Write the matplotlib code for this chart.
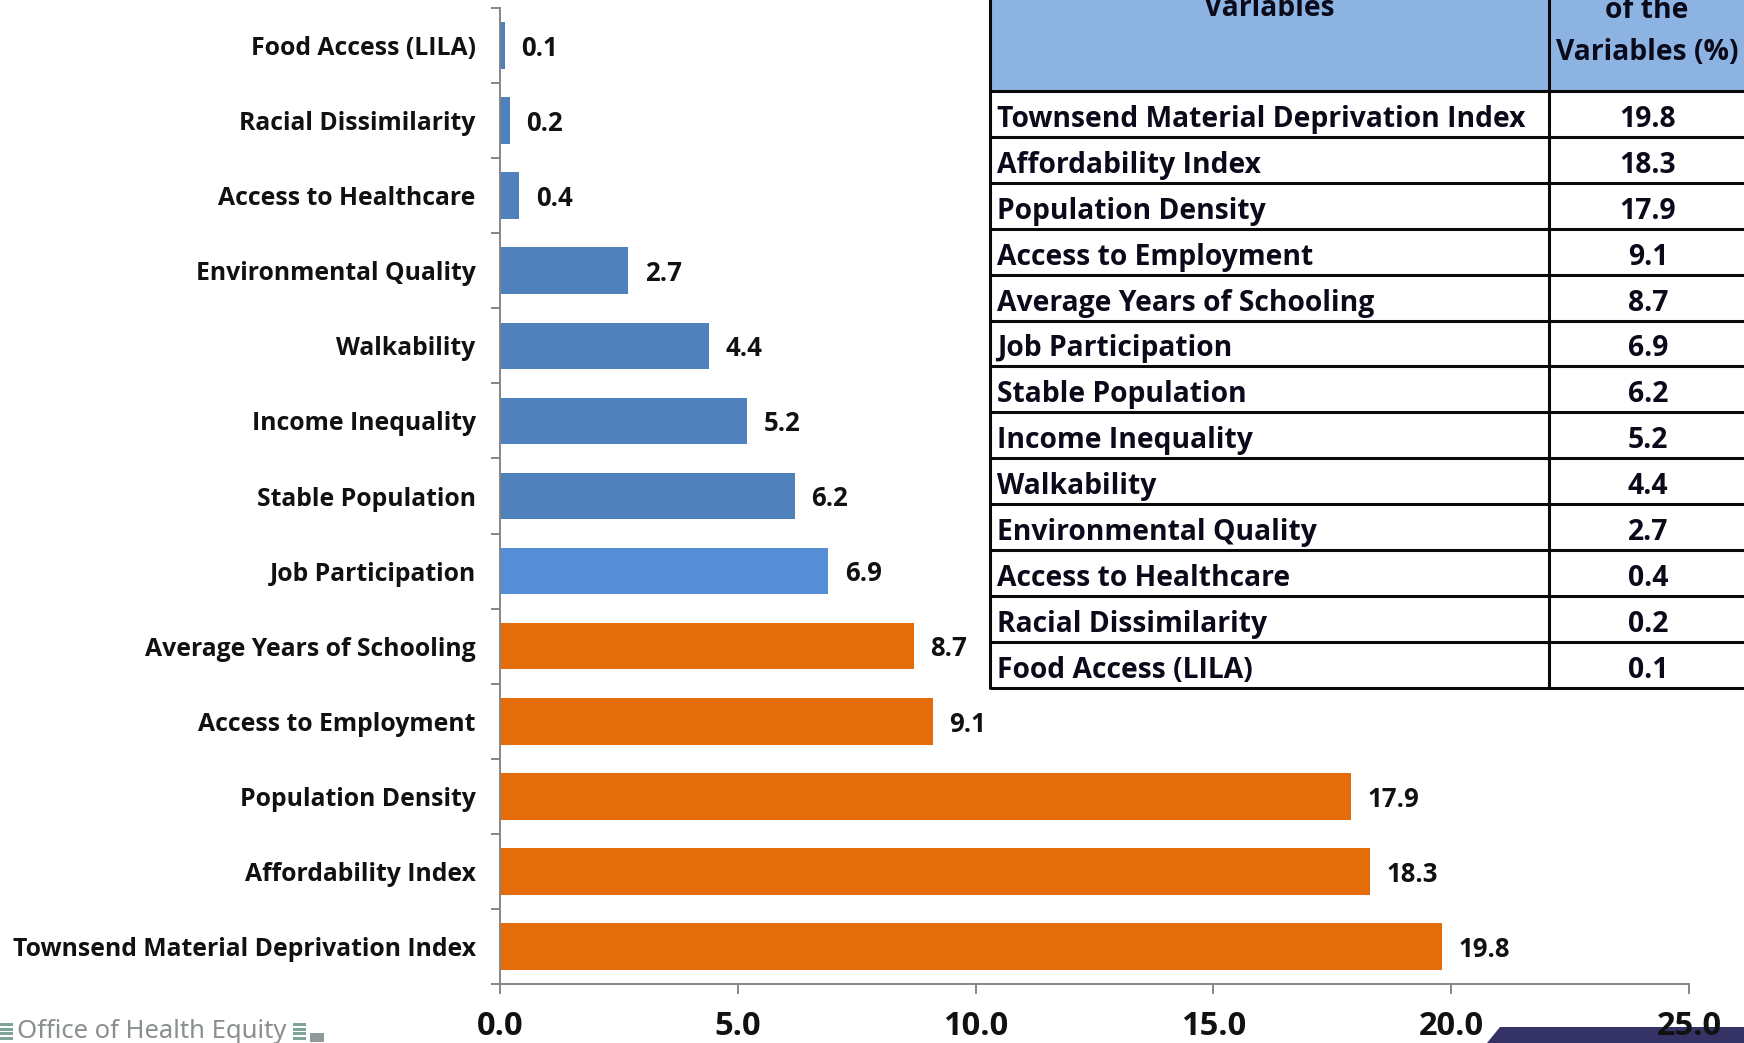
import matplotlib
matplotlib.use("Agg")
import matplotlib.pyplot as plt
from matplotlib.patches import Polygon, Rectangle

W, H = 1744, 1043

CATEGORIES = ["Townsend Material Deprivation Index", "Affordability Index", "Population Density",
              "Access to Employment", "Average Years of Schooling", "Job Participation",
              "Stable Population", "Income Inequality", "Walkability", "Environmental Quality",
              "Access to Healthcare", "Racial Dissimilarity", "Food Access (LILA)"]
VALUES = [19.8, 18.3, 17.9, 9.1, 8.7, 6.9, 6.2, 5.2, 4.4, 2.7, 0.4, 0.2, 0.1]
BAR_COLORS = ["#E46C0A"] * 5 + ["#558ED5"] + ["#4F81BD"] * 7
XTICKS = [0, 5, 10, 15, 20, 25]

TABLE_HEADER_LEFT = "Variables"
TABLE_HEADER_RIGHT = ["of the", "Variables (%)"]

CHART_FONT = "Open Sans"
TABLE_FONT = "Open Sans"
TEXT_DARK = "#111111"

fig = plt.figure(figsize=(W / 100, H / 100), dpi=100)

# axes placed by pixel box, x 500-1689, y 8-984
ax = fig.add_axes([500 / W, 1 - 984 / H, (1689 - 500) / W, (984 - 8) / H], zorder=3)
ax.patch.set_visible(False)
ypos = range(len(CATEGORIES))
ax.barh(list(ypos), VALUES, height=0.62, color=BAR_COLORS)
for y, v in zip(ypos, VALUES):
    ax.annotate(f"{v:.1f}", (v, y), xytext=(12, -2), textcoords="offset points", va="center",
                fontsize=18.5, fontweight="bold", family=CHART_FONT, color=TEXT_DARK)

ax.set_xlim(0, 25)
ax.set_ylim(-0.5, len(CATEGORIES) - 0.5)
ax.set_xticks(XTICKS)
ax.set_xticklabels([f"{t:.1f}" for t in XTICKS], fontsize=23.5, fontweight="bold",
                   family=CHART_FONT, color=TEXT_DARK)
ax.set_yticks([i - 0.5 for i in range(len(CATEGORIES) + 1)])
ax.set_yticklabels([])
ax.set_yticks(list(ypos), minor=True)
ax.set_yticklabels(CATEGORIES, minor=True, fontsize=17.8, fontweight="bold",
                   family=CHART_FONT, color=TEXT_DARK)
ax.tick_params(axis="y", which="major", length=6.5, width=1.4, color="#868686")
ax.tick_params(axis="y", which="minor", length=0, pad=17.5)
ax.tick_params(axis="x", length=7, width=1.4, color="#868686", pad=12)
for s in ["top", "right"]:
    ax.spines[s].set_visible(False)
for s in ["left", "bottom"]:
    ax.spines[s].set_color("#868686")
    ax.spines[s].set_linewidth(1.4)

# overlay in pixel coords for the pasted table and slide footer, under the chart axes
ov = fig.add_axes([0, 0, 1, 1], zorder=1)
ov.set_xlim(0, W)
ov.set_ylim(H, 0)
ov.axis("off")

tx0, tx1, tx2 = 990, 1549, 1750
head_bottom = 91
row_h = 45.9
n = len(CATEGORIES)
ov.add_patch(Rectangle((tx0, -5), tx2 - tx0, head_bottom + 5, fc="#8DB3E2", ec="none"))
for i in range(n + 1):
    ov.plot([tx0, tx2], [head_bottom + i * row_h] * 2, color="#0a0a0a", lw=2.2, solid_capstyle="butt")
for x in [tx0, tx1]:
    ov.plot([x, x], [-5, head_bottom + n * row_h + 1], color="#0a0a0a", lw=2.2, solid_capstyle="butt")

tkw = dict(family=TABLE_FONT, fontweight="bold", color="#0a0a1a", va="center")
ov.text((tx0 + tx1) / 2, 8, TABLE_HEADER_LEFT, ha="center", fontsize=20.3, **tkw)
ov.text(1647, 10, TABLE_HEADER_RIGHT[0], ha="center", fontsize=20.3, **tkw)
ov.text(1647, 52, TABLE_HEADER_RIGHT[1], ha="center", fontsize=20.3, **tkw)
for i, (name, v) in enumerate(zip(CATEGORIES, VALUES)):
    yc = head_bottom + (i + 0.5) * row_h + 5.5
    ov.text(tx0 + 7, yc, name, ha="left", fontsize=20.3, **tkw)
    ov.text(1648, yc, f"{v:.1f}", ha="center", fontsize=20.3, **tkw)

# footer
ov.text(17, 1031, "Office of Health Equity", fontsize=18.5, color="#8a8f8f", va="center",
        family="Noto Sans")
for x in [0, 293]:
    for k in range(4):
        ov.add_patch(Rectangle((x, 1023 + k * 4.5), 13, 3, fc="#7fa59b", ec="none"))
ov.add_patch(Rectangle((310, 1033), 14, 9, fc="#5f6f70", ec="none", alpha=0.7))
ov.add_patch(Polygon([(1487, H), (1500, 1027), (W, 1027), (W, H)], fc="#353366", ec="none"))

fig.savefig("out.png", dpi=100)
